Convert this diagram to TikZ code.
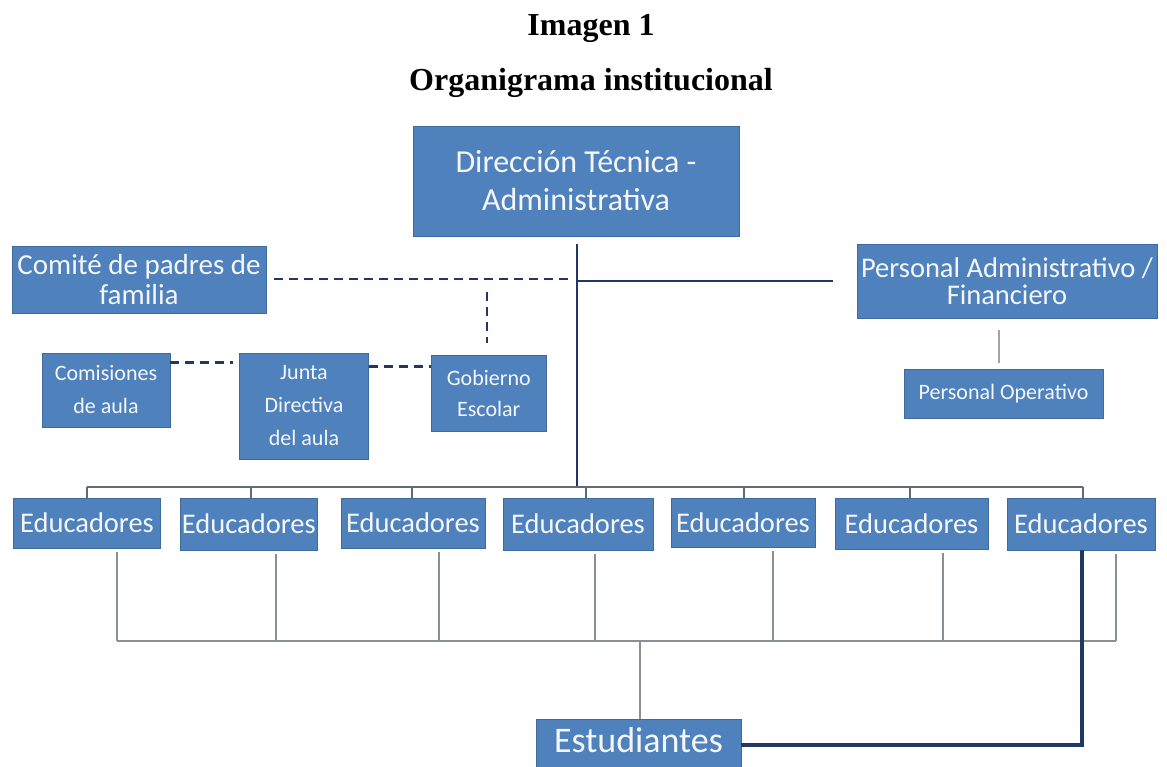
\documentclass[tikz,border=0pt]{standalone}
\usepackage{fontspec}
\setmainfont{Carlito}
\newfontfamily\titlefont{Liberation Serif}
\usetikzlibrary{calc}
\definecolor{boxblue}{HTML}{4F81BD}
\definecolor{boxline}{HTML}{3F6A9C}
\definecolor{navy}{HTML}{1F3864}
\definecolor{busgray}{HTML}{5F6B78}
\definecolor{stubgray}{HTML}{8A8F96}
\definecolor{txtw}{HTML}{F4F6FA}
\begin{document}
\begin{tikzpicture}[x=1pt,y=-1pt,
  orgbox/.style={draw=boxline, line width=0.8pt, fill=boxblue, text=txtw, inner sep=0pt, align=center},
  bigfont/.style={font=\fontsize{32}{38}\selectfont},
  midfont/.style={font=\fontsize{28.5}{27.5}\selectfont},
  comfont/.style={font=\fontsize{29}{29.5}\selectfont},
  smallfont/.style={font=\fontsize{22}{33}\selectfont},
  edufont/.style={font=\fontsize{28.5}{30}\selectfont},
  titletext/.style={font=\titlefont\bfseries\fontsize{32}{38}\selectfont, inner sep=0pt, anchor=base},
  navyline/.style={draw=navy, line width=2.5pt},
  navythick/.style={draw=navy, line width=4pt},
  dashline/.style={draw=navy, line width=2.5pt, dash pattern=on 9pt off 6pt},
  busline/.style={draw=busgray, line width=2pt},
  stubline/.style={draw=stubgray, line width=2pt},
  pogray/.style={draw=stubgray!80, line width=1.5pt}
]
\useasboundingbox (0,0) rectangle (1167,766);
\clip (0,0) rectangle (1167,766);

% titles
\node[titletext] (t1) at (591,35) {Imagen 1};
\node[titletext] (t2) at (591,90) {Organigrama institucional};

% boxes
\node[orgbox, bigfont, minimum width=326pt, minimum height=110pt] (dir) at (576,181) {Dirección Técnica -\\Administrativa};
\node[orgbox, comfont, minimum width=254pt, minimum height=67pt] (com) at (139,279.5) {Comité de padres de\\familia};
\node[orgbox, midfont, minimum width=300pt, minimum height=74pt] (pa) at (1007,281) {Personal Administrativo /\\Financiero};
\node[orgbox, smallfont, minimum width=199pt, minimum height=49pt] (po) at (1003.5,393.5) {Personal Operativo};
\node[orgbox, smallfont, minimum width=128pt, minimum height=74pt] (comi) at (106,390) {Comisiones\\de aula};
\node[orgbox, smallfont, minimum width=128.5pt, minimum height=106pt] (junta) at (304,406) {Junta\\Directiva\\del aula};
\node[orgbox, font=\fontsize{22}{31}\selectfont, minimum width=115.5pt, minimum height=76pt] (gob) at (488.75,393) {Gobierno\\Escolar};

\node[orgbox, edufont, minimum width=147.3pt, minimum height=50pt] (e1) at (87,523) {Educadores};
\node[orgbox, edufont, minimum width=137.6pt, minimum height=52pt] (e2) at (248.8,524) {Educadores};
\node[orgbox, edufont, minimum width=144pt, minimum height=50pt] (e3) at (413,523) {Educadores};
\node[orgbox, edufont, minimum width=150pt, minimum height=52pt] (e4) at (578,524) {Educadores};
\node[orgbox, edufont, minimum width=144pt, minimum height=49pt] (e5) at (743,522.5) {Educadores};
\node[orgbox, edufont, minimum width=153pt, minimum height=51pt] (e6) at (911.5,523.5) {Educadores};
\node[orgbox, edufont, minimum width=148pt, minimum height=52pt] (e7) at (1081,524) {Educadores};

\node[orgbox, font=\fontsize{36}{40}\selectfont, anchor=north, minimum width=205pt,
      text height=33pt, text depth=22pt, inner ysep=0pt] (est) at (638.5,719) {Estudiantes};

% main vertical line from Dirección to the bus
\coordinate (vtop) at (577,244);
\coordinate (busT) at (577,487);
\draw[navyline] (vtop) -- (busT);

% line to Personal Administrativo
\draw[navyline] (pa.west -| busT) -- ($(pa.west)+(-24,0)$);
% Personal Administrativo -> Personal Operativo
\draw[pogray] ($(pa.south)+(-8,12)$) -- ($(po.north)+(-4.5,-6)$);

% dashed lines
\draw[dashline] ($(com.east)+(8,-0.5)$) -- ($(com.east -| busT)+(-3,-0.5)$);
\coordinate (g1) at (487,292);
\coordinate (g2) at (487,343);
\draw[dashline] (g1) -- (g2);
\draw[dashline] ($(comi.north east)+(0,10)$) coordinate (cj) -- ($(cj -| junta.west)+(-6,0)$);
\draw[dashline] ($(junta.north east)+(0,14)$) coordinate (jg) -- (jg -| gob.west);

% upper bus to educators
\coordinate (b1) at (87,487);
\coordinate (b2) at (251,487);
\coordinate (b3) at (412,487);
\coordinate (b4) at (586,487);
\coordinate (b5) at (744,487);
\coordinate (b6) at (910,487);
\coordinate (b7) at (1083,487);
\draw[busline] (b1) -- (b7);
\foreach \i in {1,...,7}{
  \draw[busline] (b\i) -- (b\i |- e\i.north);
}

% lower stubs and bus to Estudiantes
\coordinate (s1) at (116.7,641);
\coordinate (s2) at (275.5,641);
\coordinate (s3) at (439,641);
\coordinate (s4) at (595,641);
\coordinate (s5) at (773,641);
\coordinate (s6) at (942.5,641);
\coordinate (s7) at (1116,641);
\foreach \i in {1,...,7}{
  \draw[stubline] ($(e\i.south -| s\i)+(0,4)$) -- (s\i);
}
\draw[stubline] (s1) -- (s7);
\coordinate (sm) at (640,641);
\draw[stubline] (sm) -- (sm |- est.north);

% thick navy line from the last educators box to Estudiantes
\coordinate (k) at (1082,745);
\draw[navythick] (k |- e7.south) -- (k) -- (k -| est.east);
\end{tikzpicture}
\end{document}
